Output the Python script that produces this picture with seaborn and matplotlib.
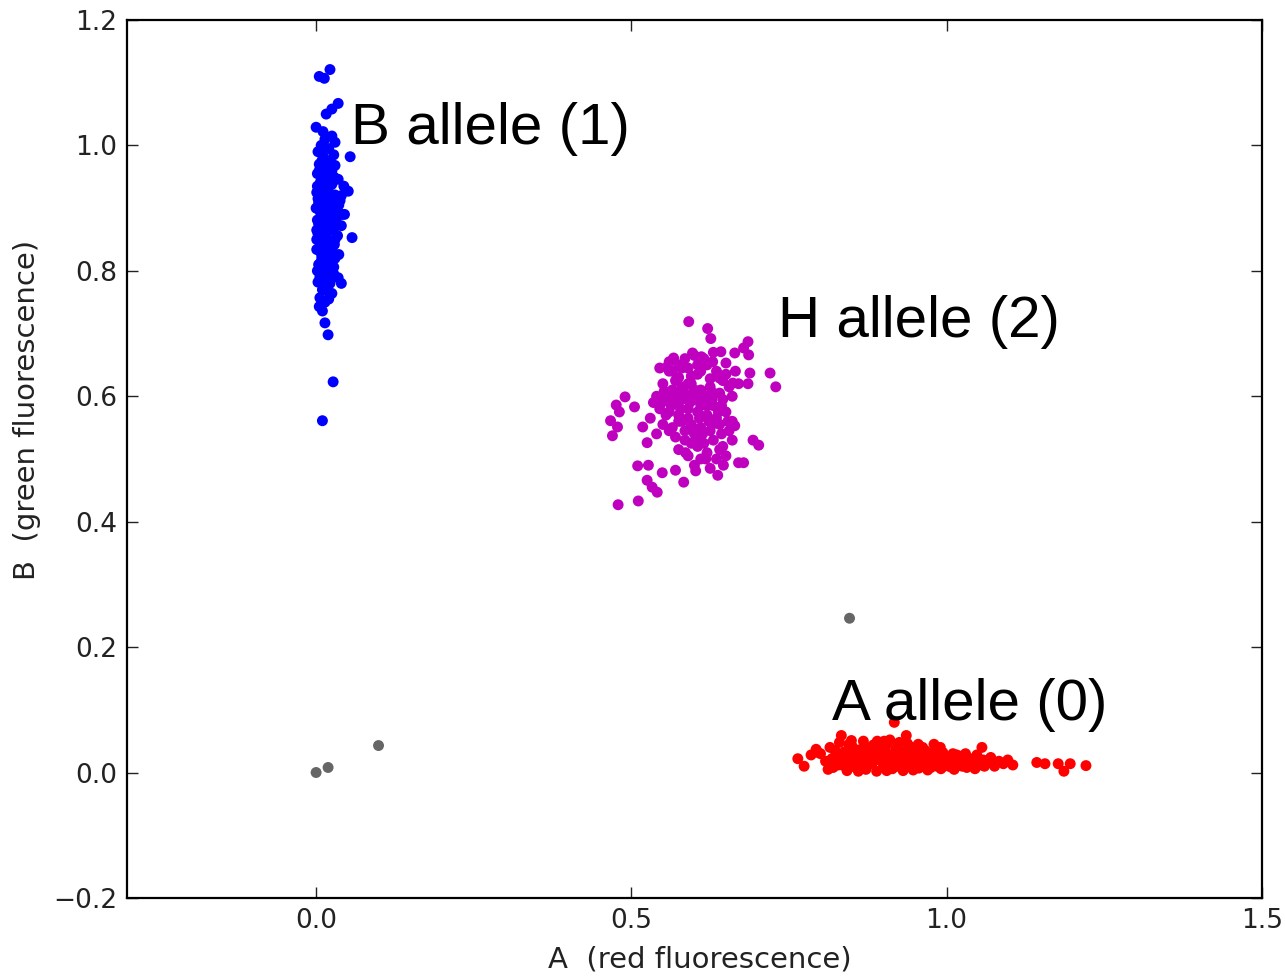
import numpy as np
import pandas as pd
import matplotlib
matplotlib.use("Agg")
import matplotlib.pyplot as plt
import seaborn as sns

# ---- data ----
blue_x = [0.008, 0.020, 0.003, 0.028, 0.012, 0.018, 0.005, 0.030, 0.010, 0.022,
          0.002, 0.015, 0.035, 0.007, 0.025, 0.044, 0.012, 0.019, 0.001, 0.030,
          0.009, 0.016, 0.038, 0.004, 0.023, 0.013, 0.028, 0.006, 0.018, 0.045,
          0.010, 0.032, 0.002, 0.021, 0.014, 0.040, 0.008, 0.026, 0.017, 0.003,
          0.034, 0.011, 0.022, 0.006, 0.029, 0.015, 0.001, 0.020, 0.036, 0.009,
          0.024, 0.013, 0.004, 0.028, 0.017, 0.008, 0.021, 0.012, 0.003, 0.016,
          0.010, 0.025, 0.006, 0.014, 0.030, 0.000, 0.024, 0.009, 0.016, 0.025,
          0.040, 0.030, 0.007, 0.020, 0.026, 0.004, 0.028, 0.012, 0.003, 0.015,
          0.001, 0.019, 0.030, 0.002, 0.022, 0.009, 0.014, 0.025, 0.030, 0.010,
          0.022, 0.005, 0.013, 0.035, 0.025, 0.016, 0.000, 0.011, 0.054, 0.051,
          0.057, 0.040, 0.035, 0.005, 0.010, 0.014, 0.019, 0.027, 0.010,
          0.005, 0.015, 0.025, 0.002, 0.018, 0.028, 0.006, 0.012, 0.022, 0.033,
          0.004, 0.016, 0.027, 0.001, 0.012, 0.025, 0.008, 0.018, 0.028, 0.006,
          0.015, 0.020, 0.030, 0.036, 0.041, 0.010, 0.022, 0.014, 0.020, 0.009]
blue_y = [1.000, 0.995, 0.990, 0.985, 0.980, 0.975, 0.970, 0.968, 0.962, 0.958,
          0.955, 0.950, 0.946, 0.942, 0.938, 0.935, 0.932, 0.928, 0.925, 0.921,
          0.918, 0.915, 0.912, 0.908, 0.905, 0.902, 0.898, 0.895, 0.892, 0.890,
          0.887, 0.884, 0.881, 0.878, 0.875, 0.872, 0.869, 0.866, 0.862, 0.859,
          0.856, 0.852, 0.848, 0.845, 0.842, 0.838, 0.834, 0.830, 0.826, 0.822,
          0.818, 0.814, 0.810, 0.806, 0.802, 0.797, 0.792, 0.787, 0.782, 0.776,
          0.770, 0.764, 0.757, 0.750, 0.910, 0.900, 0.880, 0.860, 0.940, 0.960,
          0.920, 0.850, 0.830, 0.870, 0.890, 0.930, 0.950, 0.905, 0.915, 0.885,
          0.865, 0.840, 0.820, 0.800, 0.780, 0.975, 1.010, 1.015, 1.005, 0.945,
          1.121, 1.110, 1.107, 1.067, 1.058, 1.050, 1.029, 1.022, 0.982, 0.927,
          0.853, 0.780, 0.789, 0.743, 0.736, 0.717, 0.698, 0.623, 0.561,
          0.960, 0.965, 0.945, 0.935, 0.910, 0.905, 0.915, 0.895, 0.885, 0.895,
          0.875, 0.860, 0.865, 0.850, 0.840, 0.835, 0.815, 0.808, 0.795, 0.790,
          0.770, 0.755, 0.875, 0.905, 0.890, 0.985, 0.975, 0.925, 0.945, 0.870]

mag_x = [0.560, 0.575, 0.590, 0.605, 0.620, 0.635, 0.645, 0.550, 0.565, 0.580,
         0.595, 0.610, 0.625, 0.640, 0.655, 0.540, 0.555, 0.570, 0.585, 0.600,
         0.615, 0.630, 0.645, 0.660, 0.545, 0.560, 0.575, 0.590, 0.605, 0.620,
         0.635, 0.650, 0.530, 0.550, 0.565, 0.580, 0.595, 0.610, 0.625, 0.640,
         0.655, 0.570, 0.585, 0.600, 0.615, 0.630, 0.645, 0.660, 0.575, 0.590,
         0.620, 0.635, 0.650, 0.600, 0.625, 0.560, 0.585, 0.600, 0.615, 0.630,
         0.545, 0.575, 0.665, 0.670, 0.600, 0.580, 0.620, 0.560, 0.590, 0.610,
         0.570, 0.630, 0.650, 0.555, 0.605,
         0.591, 0.621, 0.626, 0.685, 0.678, 0.686, 0.664, 0.642, 0.650, 0.629,
         0.597, 0.611, 0.567, 0.557, 0.720, 0.729, 0.688, 0.685, 0.661, 0.640,
         0.490, 0.476, 0.481, 0.505, 0.467, 0.478, 0.470, 0.518, 0.664, 0.693,
         0.702, 0.525, 0.586, 0.646, 0.670, 0.678, 0.510, 0.527, 0.602, 0.637,
         0.525, 0.533, 0.541, 0.583, 0.511, 0.479, 0.549, 0.570,
         0.565, 0.580, 0.595, 0.610, 0.625, 0.640, 0.552, 0.568, 0.583, 0.598,
         0.613, 0.628, 0.643, 0.548, 0.563, 0.578, 0.593, 0.608, 0.623, 0.638,
         0.585, 0.598, 0.613, 0.628, 0.643, 0.605, 0.618, 0.640, 0.653, 0.575,
         0.560, 0.535, 0.590, 0.605, 0.620, 0.575, 0.610, 0.660, 0.540, 0.595]
mag_y = [0.640, 0.630, 0.645, 0.635, 0.650, 0.640, 0.625, 0.620, 0.610, 0.615,
         0.620, 0.610, 0.615, 0.605, 0.615, 0.600, 0.595, 0.590, 0.600, 0.595,
         0.590, 0.585, 0.595, 0.600, 0.580, 0.575, 0.570, 0.580, 0.575, 0.570,
         0.565, 0.575, 0.565, 0.555, 0.550, 0.560, 0.555, 0.550, 0.545, 0.555,
         0.545, 0.535, 0.530, 0.540, 0.525, 0.530, 0.520, 0.530, 0.515, 0.505,
         0.510, 0.500, 0.505, 0.490, 0.485, 0.655, 0.660, 0.665, 0.660, 0.670,
         0.645, 0.650, 0.640, 0.620, 0.610, 0.595, 0.600, 0.600, 0.565, 0.585,
         0.625, 0.605, 0.635, 0.570, 0.530,
         0.719, 0.708, 0.692, 0.687, 0.677, 0.666, 0.669, 0.671, 0.653, 0.655,
         0.669, 0.663, 0.661, 0.647, 0.637, 0.615, 0.637, 0.620, 0.621, 0.629,
         0.599, 0.586, 0.575, 0.583, 0.561, 0.551, 0.537, 0.551, 0.553, 0.530,
         0.522, 0.526, 0.510, 0.490, 0.494, 0.494, 0.489, 0.490, 0.481, 0.474,
         0.466, 0.455, 0.447, 0.463, 0.433, 0.427, 0.478, 0.482,
         0.640, 0.645, 0.632, 0.640, 0.628, 0.632, 0.608, 0.600, 0.608, 0.603,
         0.598, 0.595, 0.585, 0.590, 0.585, 0.580, 0.590, 0.565, 0.560, 0.575,
         0.545, 0.548, 0.540, 0.555, 0.540, 0.520, 0.500, 0.515, 0.560, 0.560,
         0.545, 0.590, 0.620, 0.650, 0.585, 0.605, 0.500, 0.560, 0.540, 0.525]

red_x = [0.800, 0.808, 0.815, 0.820, 0.826, 0.830, 0.834, 0.838, 0.842, 0.846,
         0.850, 0.853, 0.857, 0.861, 0.865, 0.868, 0.872, 0.875, 0.879, 0.882,
         0.886, 0.889, 0.893, 0.896, 0.900, 0.903, 0.907, 0.910, 0.914, 0.917,
         0.921, 0.924, 0.928, 0.931, 0.935, 0.938, 0.942, 0.945, 0.949, 0.952,
         0.956, 0.959, 0.963, 0.966, 0.970, 0.973, 0.977, 0.980, 0.984, 0.987,
         0.991, 0.994, 0.998, 1.002, 1.006, 1.010, 1.014, 1.018, 1.022, 1.027,
         1.032, 1.037, 1.042, 1.048, 1.053, 1.058, 1.064, 1.070, 1.076, 1.083,
         1.090, 1.097, 1.105,
         0.812, 0.823, 0.836, 0.848, 0.859, 0.870, 0.877, 0.884, 0.891, 0.898,
         0.905, 0.912, 0.919, 0.926, 0.933, 0.940, 0.947, 0.954, 0.961, 0.968,
         0.975, 0.982, 0.989, 0.996, 1.004, 1.012, 1.020, 1.030, 1.045, 1.060,
         0.855, 0.880, 0.915, 0.945, 0.965, 0.990, 0.830, 0.863, 0.895, 0.930,
         0.764, 0.774, 0.793, 0.785, 1.143, 1.156, 1.177, 1.186, 1.196, 1.221,
         0.917, 0.833, 0.936, 0.849, 0.901, 1.056, 0.796,
         0.818, 0.828, 0.840, 0.852, 0.866, 0.874, 0.887, 0.899, 0.908, 0.920,
         0.932, 0.944, 0.950, 0.962, 0.972, 0.985, 0.996, 1.008, 1.016, 1.025,
         1.035, 1.050, 0.845, 0.890, 0.925, 0.860, 0.905, 0.955, 0.980]
red_y = [0.030, 0.018, 0.040, 0.008, 0.025, 0.048, 0.012, 0.033, 0.003, 0.020,
         0.042, 0.028, 0.010, 0.036, 0.018, 0.050, 0.005, 0.026, 0.040, 0.014,
         0.031, 0.002, 0.022, 0.045, 0.011, 0.034, 0.019, 0.052, 0.006, 0.028,
         0.040, 0.015, 0.033, 0.003, 0.023, 0.046, 0.012, 0.030, 0.020, 0.038,
         0.007, 0.026, 0.016, 0.035, 0.004, 0.022, 0.031, 0.012, 0.027, 0.019,
         0.006, 0.032, 0.015, 0.024, 0.009, 0.030, 0.018, 0.011, 0.026, 0.016,
         0.008, 0.022, 0.014, 0.028, 0.012, 0.020, 0.016, 0.024, 0.010, 0.018,
         0.014, 0.020, 0.012,
         0.005, 0.035, 0.022, 0.009, 0.024, 0.030, 0.013, 0.044, 0.027, 0.017,
         0.003, 0.025, 0.036, 0.009, 0.018, 0.027, 0.004, 0.017, 0.029, 0.021,
         0.008, 0.035, 0.023, 0.010, 0.017, 0.005, 0.020, 0.030, 0.006, 0.010,
         0.015, 0.021, 0.013, 0.040, 0.010, 0.040, 0.018, 0.006, 0.036, 0.024,
         0.022, 0.010, 0.037, 0.028, 0.016, 0.014, 0.014, 0.002, 0.014, 0.011,
         0.080, 0.059, 0.059, 0.051, 0.050, 0.040, 0.032,
         0.022, 0.012, 0.030, 0.018, 0.012, 0.037, 0.020, 0.028, 0.010, 0.020,
         0.032, 0.022, 0.010, 0.040, 0.015, 0.010, 0.025, 0.020, 0.028, 0.010,
         0.016, 0.020, 0.045, 0.050, 0.048, 0.002, 0.045, 0.045, 0.045]

gray_x = [0.000, 0.019, 0.099, 0.846]
gray_y = [0.000, 0.008, 0.043, 0.246]

labels = ["A allele (0)", "B allele (1)", "H allele (2)"]
label_x = [0.818, 0.056, 0.732]
label_y = [0.083, 1.002, 0.695]

xticks = [0.0, 0.5, 1.0, 1.5]
yticks = [-0.2, 0.0, 0.2, 0.4, 0.6, 0.8, 1.0, 1.2]

# ---- frame ----
df = pd.concat([
    pd.DataFrame({"x": gray_x, "y": gray_y, "g": "gray"}),
    pd.DataFrame({"x": red_x, "y": red_y, "g": "A"}),
    pd.DataFrame({"x": mag_x, "y": mag_y, "g": "H"}),
    pd.DataFrame({"x": blue_x, "y": blue_y, "g": "B"}),
], ignore_index=True)
palette = {"gray": "#666666", "A": "#ff0000", "H": "#bf00bf", "B": "#0000ff"}

sns.set_style("ticks")
plt.rcParams["font.family"] = ["DejaVu Sans"]

fig = plt.figure(figsize=(12.85, 9.76), dpi=100)
ax = fig.add_axes([0.0988, 0.080, 0.8832, 0.8995])

sns.scatterplot(data=df, x="x", y="y", hue="g", palette=palette, s=62,
                linewidth=0, legend=False, ax=ax)

ax.set_xlim(-0.3, 1.5)
ax.set_ylim(-0.2, 1.2)
ax.set_xticks(xticks)
ax.set_yticks(yticks)
ax.set_xticklabels([f"{v:.1f}" for v in xticks])
ax.set_yticklabels([f"{v:.1f}".replace("-", "\u2212") for v in yticks])
ax.tick_params(direction="in", length=8, width=1, top=True, right=True,
               labelsize=19, colors="#222222", labelcolor="#222222", pad=7)
for sp in ax.spines.values():
    sp.set_visible(True)
    sp.set_linewidth(1.6)
    sp.set_color("black")

ax.set_xlabel("A  (red fluorescence)", fontsize=21, color="#222222")
ax.set_ylabel("B  (green fluorescence)", fontsize=21, color="#222222")
ax.xaxis.set_label_coords(0.505, -0.054)
ax.yaxis.set_label_coords(-0.076, 0.556)

for t, lx, ly in zip(labels, label_x, label_y):
    ax.text(lx, ly, t, fontsize=42, family="Liberation Sans", color="black",
            ha="left", va="baseline")

fig.savefig("out.png", dpi=100)
